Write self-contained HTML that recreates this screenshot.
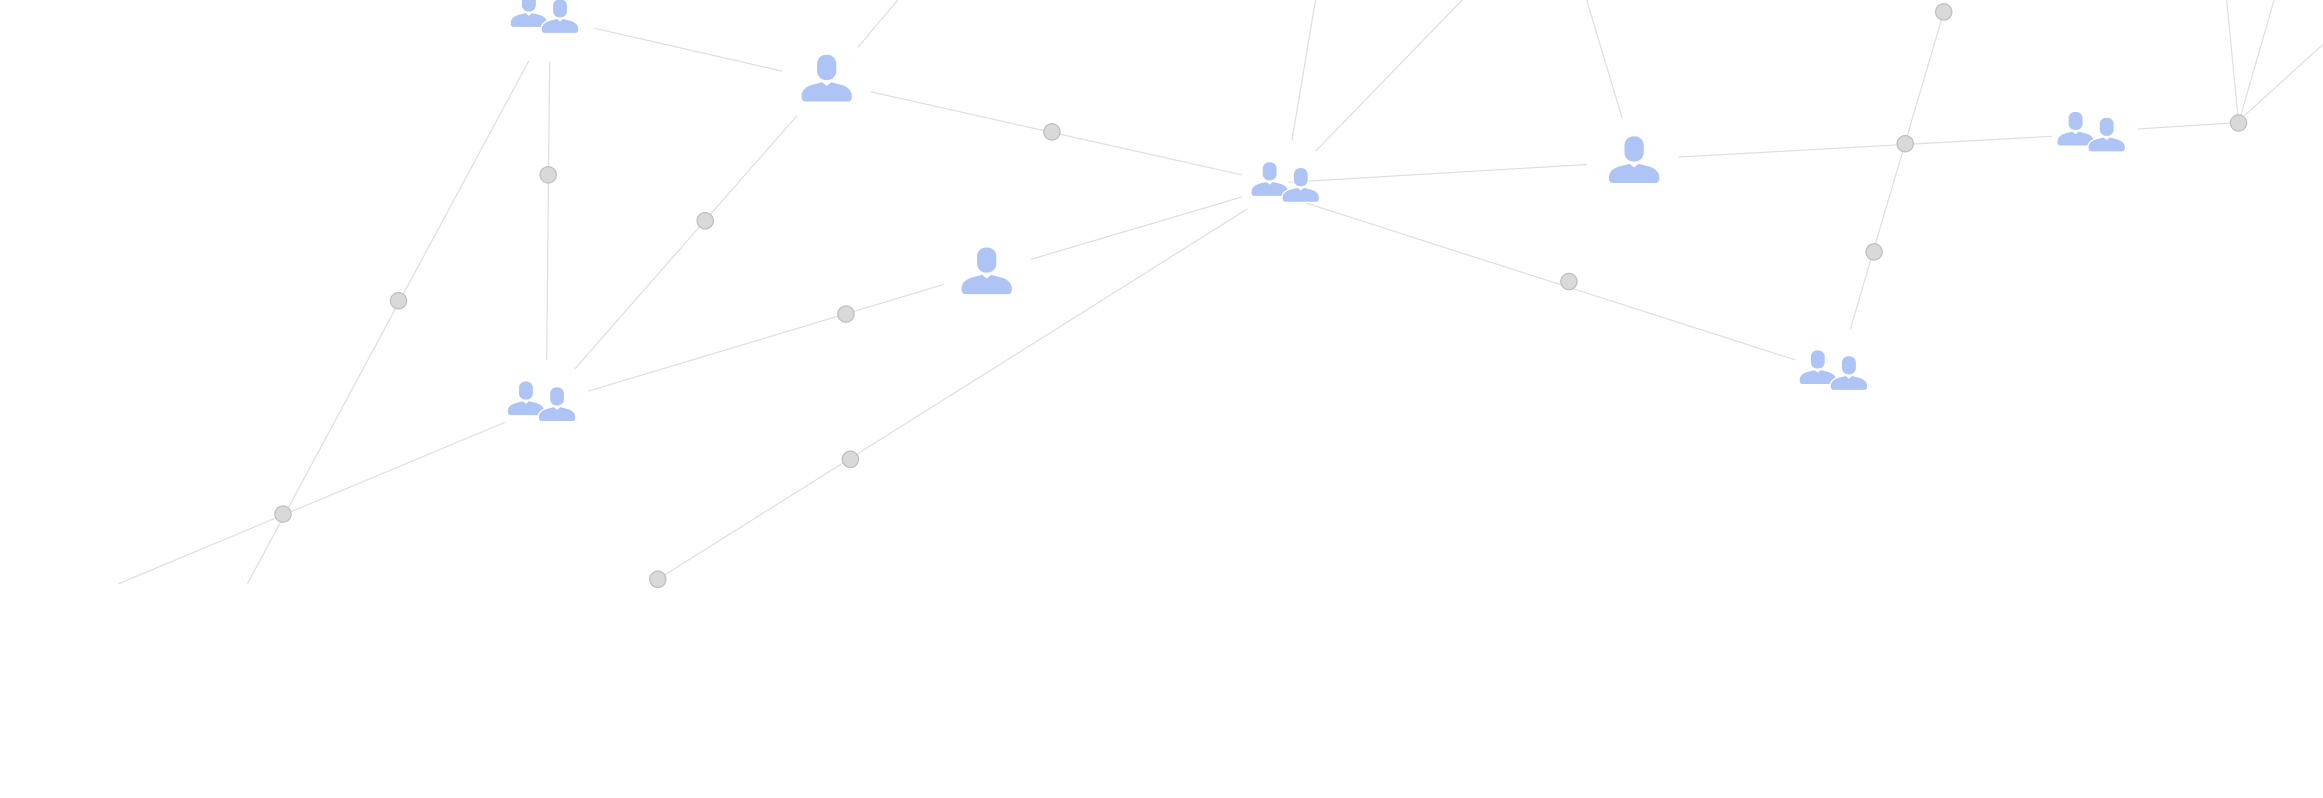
<!DOCTYPE html>
<html><head><meta charset="utf-8"><style>html,body{margin:0;padding:0;background:#fff}svg{display:block}</style></head>
<body>
<svg width="2323" height="798" viewBox="0 0 1568 538.6" xmlns="http://www.w3.org/2000/svg">
<defs>
<g id="p">
<rect x="-6.5" y="-16" width="13" height="17" rx="6" fill="#aec4f5"/>
<path d="M-17,12 Q-17,6 -9,4 L-3,2.5 L0,5 L3,2.5 L9,4 Q17,6 17,12 Q17,15.5 14.5,15.5 L-14.5,15.5 Q-17,15.5 -17,12Z" fill="#aec4f5"/>
</g>
<g id="g">
<g transform="translate(-9,-1) scale(0.72)"><use href="#p"/></g>
<g transform="translate(12,3) scale(0.72)" stroke="#fff" stroke-width="2.5"><use href="#p"/></g>
<g transform="translate(12,3) scale(0.72)"><use href="#p"/></g>
</g>
<circle id="d" r="5.5" fill="#d9d9d9" stroke="#bdbdbd" stroke-width="0.8"/>
</defs>
<g stroke="#dedede" stroke-width="0.8" fill="none">
<line x1="401" y1="19" x2="528" y2="48"/>
<line x1="588" y1="62" x2="838" y2="118"/>
<line x1="579" y1="32" x2="606" y2="0"/>
<line x1="538" y1="78" x2="388" y2="249"/>
<line x1="371" y1="42" x2="369" y2="243"/>
<line x1="357" y1="41" x2="167" y2="394"/>
<line x1="341" y1="285" x2="80" y2="394"/>
<line x1="397" y1="264" x2="637" y2="192"/>
<line x1="696" y1="175" x2="838" y2="133"/>
<line x1="842" y1="141" x2="444" y2="391"/>
<line x1="872" y1="95" x2="888" y2="0"/>
<line x1="888" y1="102" x2="987" y2="0"/>
<line x1="870" y1="123" x2="1071" y2="111"/>
<line x1="869" y1="133" x2="1212" y2="243"/>
<line x1="1095" y1="80" x2="1071" y2="0"/>
<line x1="1133" y1="106" x2="1385" y2="92"/>
<line x1="1312" y1="8" x2="1249" y2="222"/>
<line x1="1443" y1="87" x2="1507" y2="83"/>
<line x1="1503" y1="0" x2="1511" y2="83"/>
<line x1="1535" y1="0" x2="1511" y2="83"/>
<line x1="1515" y1="78" x2="1568" y2="30"/>
</g>
<use href="#g" x="366" y="8"/>
<use href="#p" x="558" y="53"/>
<use href="#g" x="866" y="122"/>
<use href="#p" x="666" y="183"/>
<use href="#g" x="364" y="270"/>
<use href="#p" x="1103" y="108"/>
<use href="#g" x="1410" y="88"/>
<use href="#g" x="1236" y="249"/>
<use href="#d" x="710" y="89"/>
<use href="#d" x="571" y="212"/>
<use href="#d" x="370" y="118"/>
<use href="#d" x="476" y="149"/>
<use href="#d" x="269" y="203"/>
<use href="#d" x="191" y="347"/>
<use href="#d" x="574" y="310"/>
<use href="#d" x="444" y="391"/>
<use href="#d" x="1286" y="97"/>
<use href="#d" x="1511" y="83"/>
<use href="#d" x="1312" y="8"/>
<use href="#d" x="1265" y="170"/>
<use href="#d" x="1059" y="190"/>
</svg>
</body></html>
